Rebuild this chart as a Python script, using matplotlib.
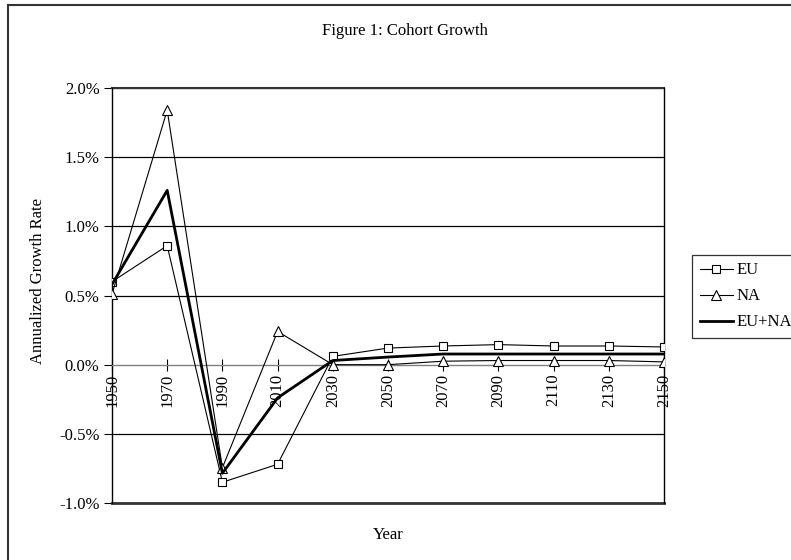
import matplotlib.pyplot as plt
from matplotlib.patches import Rectangle
from matplotlib.ticker import FuncFormatter

plt.rcParams['font.family'] = ['Liberation Serif', 'DejaVu Serif']

# Data (annualized growth rate, in percent)
years = [1950, 1970, 1990, 2010, 2030, 2050, 2070, 2090, 2110, 2130, 2150]
eu = [0.60, 0.86, -0.85, -0.72, 0.06, 0.12, 0.135, 0.145, 0.135, 0.135, 0.128]
na = [0.51, 1.84, -0.745, 0.24, 0.0, 0.0, 0.025, 0.03, 0.03, 0.03, 0.02]
eu_na = [0.58, 1.26, -0.785, -0.24, 0.03, 0.055, 0.077, 0.077, 0.077, 0.077, 0.077]
y_ticks = [-1.0, -0.5, 0.0, 0.5, 1.0, 1.5, 2.0]

W, H = 791, 560
fig = plt.figure(figsize=(W / 100, H / 100), dpi=100)
ax = fig.add_axes([112 / W, 1 - 503 / H, (664 - 112) / W, (503 - 88) / H])

ax.plot(years, eu, color="black", lw=0.8, marker="s", ms=6, mfc="white", mec="black", mew=0.8, label="EU", zorder=4)
ax.plot(years, na, color="black", lw=0.8, marker="^", ms=6.5, mfc="white", mec="black", mew=0.8, label="NA", zorder=4)
ax.plot(years, eu_na, color="black", lw=2.0, label="EU+NA", zorder=5)

# x axis on zero line (set before tick styling, it resets the ticks)
ax.spines["bottom"].set_position(("data", 0))
ax.spines["bottom"].set_color("#808080")
ax.spines["bottom"].set_linewidth(1.0)
ax.spines["top"].set_visible(False)
ax.spines["left"].set_linewidth(1.0)
ax.spines["right"].set_linewidth(1.0)

ax.set_xlim(1950, 2150)
ax.set_ylim(-1.0, 2.0)
ax.set_yticks(y_ticks)
ax.yaxis.set_major_formatter(FuncFormatter(lambda v, p: "%.1f%%" % v))
ax.set_xticks(years)
ax.set_xticklabels([str(y) for y in years])
ax.tick_params(axis="x", direction="inout", length=9, width=0.8, color="black", labelsize=12, pad=2,
               labelrotation=90)
ax.tick_params(axis="y", direction="out", length=6, width=0.8, labelsize=12, pad=3)

# gridlines and borders
for v in y_ticks:
    if v != 0.0:
        ax.axhline(v, color="black", lw=0.9, zorder=1)
ax.axhline(-1.0, color="#333333", lw=2.0, zorder=2, clip_on=False)
ax.axhline(2.0, color="#333333", lw=1.5, zorder=2, clip_on=False)

fig.text(405 / W, 1 - 31 / H, "Figure 1: Cohort Growth", ha="center", va="center", fontsize=12)
fig.text(38 / W, 1 - 281 / H, "Annualized Growth Rate", ha="center", va="center", rotation=90, fontsize=12)
fig.text(388 / W, 1 - 535 / H, "Year", ha="center", va="center", fontsize=12)

leg = fig.legend(loc="upper left", bbox_to_anchor=(692 / W, 1 - 255 / H), frameon=True, fancybox=False,
                 fontsize=12, handlelength=2.0, handletextpad=0.2, borderpad=0.45, labelspacing=0.6,
                 borderaxespad=0)
leg.get_frame().set_edgecolor("black")
leg.get_frame().set_linewidth(0.9)

# outer chart frame (cut at right and bottom edges)
fig.patches.append(Rectangle((8 / W, -0.1), 1.2, 1 - 5 / H + 0.1, transform=fig.transFigure,
                             fill=False, edgecolor="#333333", lw=1.5))

fig.savefig("out.png", dpi=100)
